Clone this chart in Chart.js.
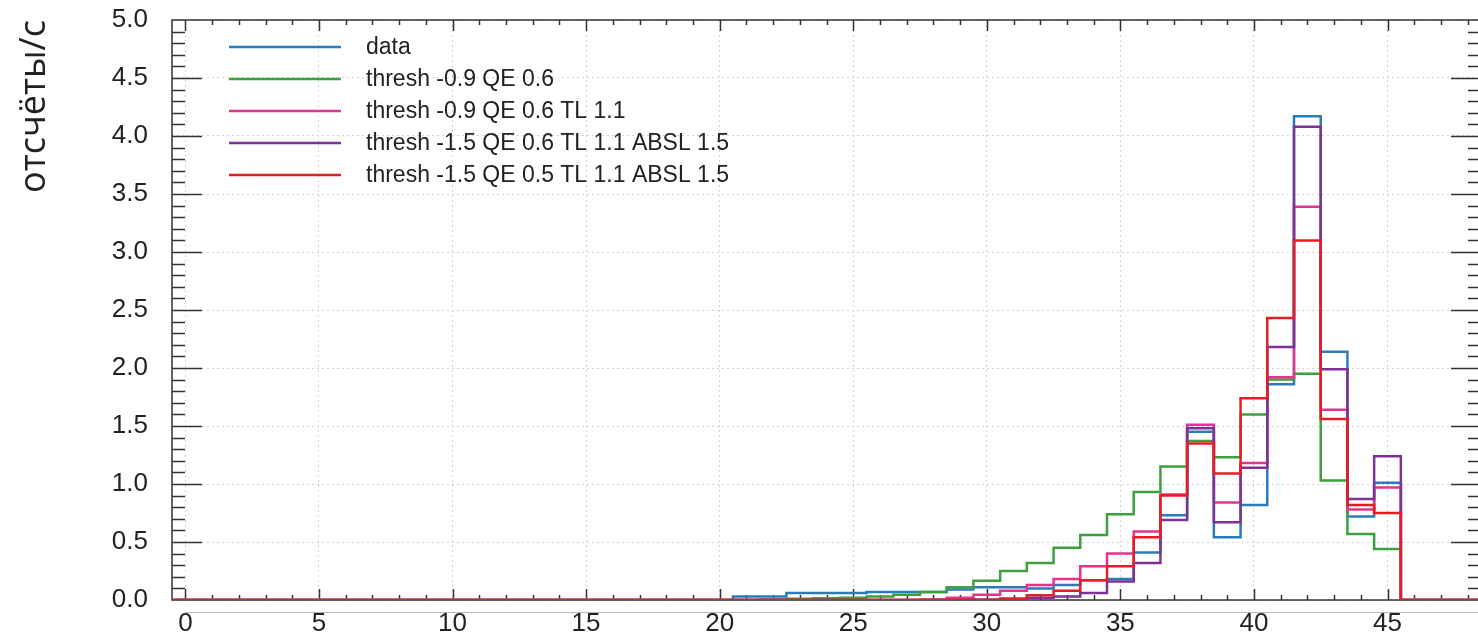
<!DOCTYPE html>
<html>
<head>
<meta charset="utf-8">
<script src="https://cdn.jsdelivr.net/npm/chart.js@4/dist/chart.umd.min.js"></script>
<style>
  html, body { margin: 0; padding: 0; background: #fff; overflow: hidden; }
  #wrap { width: 1490px; height: 641px; }
</style>
</head>
<body>
<div id="wrap"><canvas id="hist"></canvas></div>
<script>
// центры бинов гистограммы (ширина бина 1)
const binCenters = [
  0, 1, 2, 3, 4, 5, 6, 7, 8, 9, 10, 11, 12, 13, 14, 15, 16, 17, 18, 19,
  20, 21, 22, 23, 24, 25, 26, 27, 28, 29, 30, 31, 32, 33, 34, 35, 36, 37, 38, 39,
  40, 41, 42, 43, 44, 45, 46, 47, 48
];

// отсчёты/с по бинам
const dataRate = [
  0, 0, 0, 0, 0, 0, 0, 0, 0, 0, 0, 0, 0, 0, 0, 0, 0, 0, 0, 0,
  0, 0.03, 0.03, 0.06, 0.06, 0.06, 0.07, 0.07, 0.07, 0.09, 0.11, 0.11, 0.10, 0.13, 0.17, 0.18, 0.41, 0.73, 1.45, 0.54,
  0.82, 1.86, 4.17, 2.14, 0.72, 1.01, 0, 0, 0
];
const simQe06 = [
  0, 0, 0, 0, 0, 0, 0, 0, 0, 0, 0, 0, 0, 0, 0, 0, 0, 0, 0, 0,
  0, 0, 0.005, 0.01, 0.015, 0.02, 0.03, 0.045, 0.07, 0.11, 0.165, 0.25, 0.32, 0.45, 0.56, 0.74, 0.93, 1.15, 1.37, 1.23,
  1.60, 1.90, 1.95, 1.03, 0.57, 0.44, 0, 0, 0
];
const simQe06Tl = [
  0, 0, 0, 0, 0, 0, 0, 0, 0, 0, 0, 0, 0, 0, 0, 0, 0, 0, 0, 0,
  0, 0, 0, 0, 0, 0, 0, 0, 0.005, 0.02, 0.045, 0.08, 0.13, 0.18, 0.29, 0.40, 0.59, 0.91, 1.51, 0.84,
  1.18, 1.92, 3.39, 1.64, 0.78, 0.97, 0, 0, 0
];
const simQe06Absl = [
  0, 0, 0, 0, 0, 0, 0, 0, 0, 0, 0, 0, 0, 0, 0, 0, 0, 0, 0, 0,
  0, 0, 0, 0, 0, 0, 0, 0, 0, 0, 0.005, 0.01, 0.02, 0.03, 0.06, 0.16, 0.32, 0.69, 1.48, 0.67,
  1.14, 2.18, 4.08, 1.99, 0.87, 1.24, 0, 0, 0
];
const simQe05Absl = [
  0, 0, 0, 0, 0, 0, 0, 0, 0, 0, 0, 0, 0, 0, 0, 0, 0, 0, 0, 0,
  0, 0, 0, 0, 0, 0, 0, 0, 0, 0, 0, 0.01, 0.04, 0.08, 0.17, 0.29, 0.54, 0.90, 1.35, 1.09,
  1.74, 2.43, 3.10, 1.56, 0.82, 0.75, 0, 0, 0
];

const seriesLabels = [
  "data",
  "thresh -0.9 QE 0.6",
  "thresh -0.9 QE 0.6 TL 1.1",
  "thresh -1.5 QE 0.6 TL 1.1 ABSL 1.5",
  "thresh -1.5 QE 0.5 TL 1.1 ABSL 1.5",
];
const seriesColors = ["#2b7bba", "#3ca03c", "#e6338c", "#7d3296", "#e61e23"];

const xTicks = [0, 5, 10, 15, 20, 25, 30, 35, 40, 45];
const yTicks = [0, 0.5, 1.0, 1.5, 2.0, 2.5, 3.0, 3.5, 4.0, 4.5, 5.0];

// ступенчатая линия: точка на левой границе каждого бина + правая граница последнего
function toSteps(values) {
  const pts = binCenters.map((c, i) => ({ x: c - 0.5, y: values[i] }));
  const last = binCenters.length - 1;
  pts.push({ x: binCenters[last] + 0.5, y: values[last] });
  return pts;
}

const allSeries = [dataRate, simQe06, simQe06Tl, simQe06Absl, simQe05Absl];

const datasets = allSeries.map((vals, i) => ({
  label: seriesLabels[i],
  data: toSteps(vals),
  borderColor: seriesColors[i],
  borderWidth: 2.5,
  pointRadius: 0,
  stepped: "before",
  fill: false,
  // красная поверх остальных
  order: allSeries.length - i,
}));

// рамка и внутренние засечки на всех четырёх сторонах
const frameTicks = {
  id: "frameTicks",
  beforeDatasetsDraw(chart) {
    const { ctx, chartArea: a, scales: { x, y } } = chart;
    ctx.save();
    ctx.strokeStyle = "#333";
    ctx.lineWidth = 1.5;
    ctx.strokeRect(a.left, a.top, a.right - a.left, a.bottom - a.top);
    ctx.beginPath();
    for (let v = 0; v <= 48; v++) {
      const px = Math.round(x.getPixelForValue(v)) + 0.5;
      const len = v % 5 === 0 ? 11 : 5;
      ctx.moveTo(px, a.bottom); ctx.lineTo(px, a.bottom - len);
      ctx.moveTo(px, a.top); ctx.lineTo(px, a.top + len);
    }
    for (let k = 1; k < 50; k++) {
      const py = Math.round(y.getPixelForValue(k / 10)) + 0.5;
      const len = k % 5 === 0 ? 30 : 13;
      ctx.moveTo(a.left, py); ctx.lineTo(a.left + len, py);
      ctx.moveTo(a.right, py); ctx.lineTo(a.right - len, py);
    }
    ctx.stroke();
    // тонкая серая линия под осью X
    ctx.strokeStyle = "#b8b8b8";
    ctx.lineWidth = 1;
    ctx.beginPath();
    ctx.moveTo(x.getPixelForValue(0), a.bottom + 12.5);
    ctx.lineTo(chart.width, a.bottom + 12.5);
    ctx.stroke();
    ctx.restore();
  },
  afterDraw(chart) {
    // легенда внутри области графика
    const { ctx, chartArea: a } = chart;
    ctx.save();
    ctx.font = "23px 'Liberation Sans', Arial, sans-serif";
    ctx.textBaseline = "middle";
    chart.data.datasets.forEach((ds, i) => {
      const yy = a.top + 27 + i * 32;
      ctx.strokeStyle = ds.borderColor;
      ctx.lineWidth = 2.5;
      ctx.beginPath();
      ctx.moveTo(a.left + 57, yy);
      ctx.lineTo(a.left + 169, yy);
      ctx.stroke();
      ctx.fillStyle = "#222";
      ctx.fillText(ds.label, a.left + 194, yy + 1);
    });
    ctx.restore();
  },
};

const tickFont = { family: "'Liberation Sans', Arial, sans-serif", size: 26 };

new Chart(document.getElementById("hist"), {
  type: "line",
  data: { datasets },
  options: {
    responsive: true,
    maintainAspectRatio: false,
    devicePixelRatio: 1,
    animation: false,
    layout: { padding: { top: 20, right: 9, bottom: 0, left: 0 } },
    plugins: { legend: { display: false }, tooltip: { enabled: false } },
    scales: {
      x: {
        type: "linear",
        min: -0.5,
        max: 48.5,
        afterBuildTicks: (s) => { s.ticks = xTicks.map((v) => ({ value: v })); },
        afterFit: (s) => {
          s.height = 41;
          s.paddingLeft = 0;
          s.paddingRight = 0;
        },
        ticks: { font: tickFont, color: "#222", padding: 8, maxRotation: 0 },
        grid: { color: "#d4d4d4", lineWidth: 1, drawTicks: false },
        border: { display: false, dash: [2, 3] },
      },
      y: {
        min: 0,
        max: 5,
        afterBuildTicks: (s) => { s.ticks = yTicks.map((v) => ({ value: v })); },
        afterFit: (s) => {
          s.width = 172;
          s.paddingTop = 0;
          s.paddingBottom = 0;
        },
        ticks: {
          font: tickFont,
          color: "#222",
          padding: 24,
          callback: (v) => Number(v).toFixed(1),
        },
        grid: { color: "#d4d4d4", lineWidth: 1, drawTicks: false },
        border: { display: false, dash: [2, 3] },
        title: {
          display: true,
          text: "отсчёты/с",
          align: "end",
          color: "#222",
          font: { family: "'Open Sans', sans-serif", size: 36 },
          padding: { top: 13, bottom: 0 },
        },
      },
    },
  },
  plugins: [frameTicks],
});
</script>
</body>
</html>
